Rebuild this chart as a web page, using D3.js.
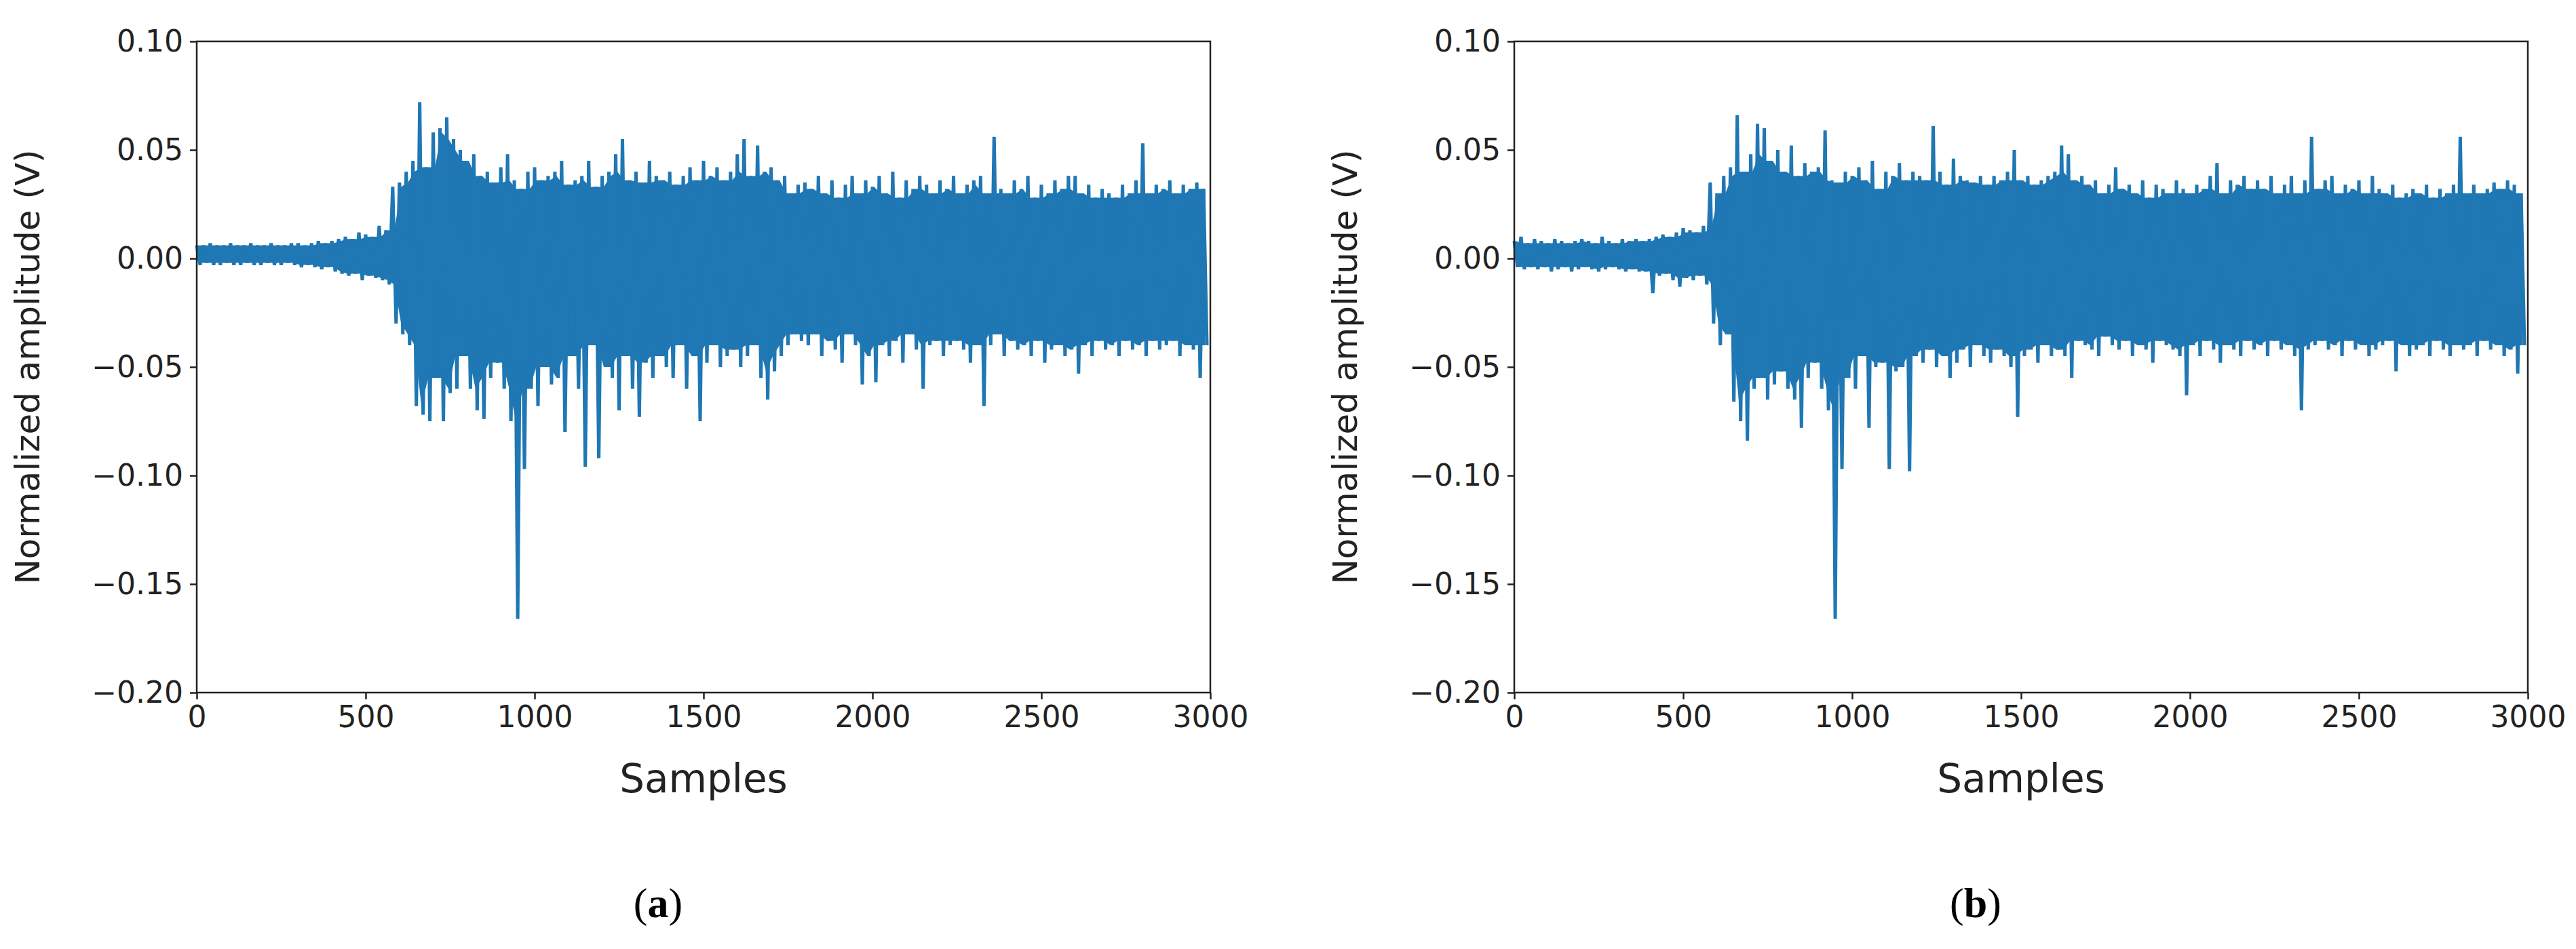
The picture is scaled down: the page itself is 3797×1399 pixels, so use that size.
<!DOCTYPE html>
<meta charset="utf-8">
<style>body{margin:0;background:#fff}</style>
<body>
<script src="https://d3js.org/d3.v7.min.js"></script>
<script>
var width = 3797, height = 1399;

// per 20 samples: upper peak at i*20, lower trough at i*20+10 (units of 0.001 V)
var upperA = [6,6,7,6,6,7,6,6,7,6,6,7,6,6,7,7,6,7,8,7,
  8,9,10,9,12,11,10,15,13,33, 35,40,45,72,42,58,60,65,55,50,
  45,48,38,40,35,42,48,36,32,40, 42,36,38,40,45,34,36,38,45,33,
  38,40,48,55,36,40,35,45,38,36, 40,34,38,42,36,45,38,42,36,40,
  48,55,38,52,40,42,36,38,30,34, 35,32,38,30,36,28,34,38,30,36,
  33,38,30,40,28,36,32,38,34,30, 36,32,38,30,34,36,38,30,56,32,
  30,36,32,38,28,34,30,36,32,38, 38,30,34,28,32,30,28,34,30,36,
  53,30,34,32,36,30,34,32,35,32];
var lowerA = [3,2,3,3,2,3,3,2,3,3,2,3,3,2,3,4,3,4,5,4,
  6,7,8,7,10,8,9,10,12,30, 35,40,68,72,75,55,75,62,60,45,
  60,70,74,55,48,60,75,166,97,60, 68,50,58,55,80,45,60,96,40,92,
  50,55,70,45,60,73,48,55,45,50, 55,40,60,45,75,48,40,50,45,42,
  50,45,40,55,65,52,45,40,35,38, 40,35,45,38,42,48,35,40,58,45,
  57,40,45,38,48,35,42,60,40,38, 45,40,38,42,48,40,68,40,35,45,
  38,42,40,45,38,48,42,40,45,42, 53,40,45,38,42,40,45,38,42,40,
  45,38,42,40,38,45,40,42,55,40];
var upperB = [8,10,7,9,8,7,9,8,7,8,9,8,7,10,8,7,9,8,9,8,
  9,10,11,10,12,14,13,12,15,35, 30,38,42,66,40,48,62,60,45,50,
  40,52,38,44,40,42,59,36,35,40, 38,42,36,45,32,40,38,44,36,40,
  38,36,61,40,34,46,38,36,35,38, 34,38,36,40,50,36,38,34,36,38,
  40,52,48,36,38,34,36,30,34,42, 32,34,30,36,28,34,32,30,36,32,
  30,34,32,38,44,30,36,34,38,32, 36,32,38,30,34,38,30,36,56,32,
  36,38,30,34,32,36,30,38,32,30, 34,28,30,32,30,34,28,32,30,34,
  56,30,34,30,32,35,32,36,34,30];
var lowerB = [4,5,4,5,4,6,5,4,6,5,4,5,6,5,4,5,6,5,6,6,
  16,8,7,10,13,9,10,8,12,30, 40,35,66,75,84,60,55,65,58,52,
  60,65,78,55,48,60,70,166,97,55, 60,45,78,50,48,97,52,50,98,45,
  48,42,50,45,55,48,42,50,40,45, 48,42,45,50,73,45,42,48,40,45,
  42,45,55,38,40,42,45,36,40,42, 38,45,40,42,48,38,40,42,45,63,
  40,45,38,42,48,40,42,45,38,42, 40,45,38,42,40,45,70,42,40,38,
  42,40,45,38,42,40,45,42,40,38, 52,40,45,42,40,45,38,42,45,40,
  42,40,45,38,42,40,45,42,53,40];

var xTicks = [0, 500, 1000, 1500, 2000, 2500, 3000];
var yTicks = [0.10, 0.05, 0.00, -0.05, -0.10, -0.15, -0.20];

var svg = d3.select("body").append("svg")
    .attr("width", width).attr("height", height);

function panel(ox, upper, lower, tag) {
  var x = d3.scaleLinear().domain([0, 3000]).range([ox, ox + 1494]),
      y = d3.scaleLinear().domain([-0.2, 0.1]).range([1021, 61]);

  var pts = [];
  upper.forEach(function(u, i) {
    pts.push([i * 20, u / 1000]);
    pts.push([i * 20 + 10, -lower[i] / 1000]);
  });

  // packed core of the trace: smallest neighbouring peak / trough
  var win = (arr, i) => d3.min(arr.slice(Math.max(i - 1, 0), i + 2));
  var band = upper.map((u, i) => ({s: i * 20 + 5,
      hi: win(upper, i) / 1000, lo: -win(lower, i) / 1000}));

  var g = svg.append("g");
  g.append("path")
      .datum(band)
      .attr("fill", "#1f77b4")
      .attr("d", d3.area().x(d => x(d.s)).y0(d => y(d.lo)).y1(d => y(d.hi)));
  g.append("path")
      .datum(pts)
      .attr("fill", "none")
      .attr("stroke", "#1f77b4")
      .attr("stroke-width", 5)
      .attr("d", d3.line().x(d => x(d[0])).y(d => y(d[1])));

  g.append("rect")
      .attr("x", ox).attr("y", 61).attr("width", 1494).attr("height", 960)
      .attr("fill", "none").attr("stroke", "#222").attr("stroke-width", 2.5);

  var xa = g.append("g").attr("transform", "translate(0,1021)")
      .call(d3.axisBottom(x).tickValues(xTicks).tickSize(10).tickPadding(10).tickFormat(d3.format("d")));
  var ya = g.append("g").attr("transform", "translate(" + ox + ",0)")
      .call(d3.axisLeft(y).tickValues(yTicks).tickSize(10).tickPadding(10)
        .tickFormat(d => d3.format(".2f")(d).replace("-", "\u2212")));
  [xa, ya].forEach(function(a) {
    a.select(".domain").remove();
    a.selectAll("line").attr("stroke", "#222").attr("stroke-width", 2.5);
    a.selectAll("text").attr("font-family", "DejaVu Sans").attr("font-size", 44).attr("fill", "#222");
  });

  g.append("text").attr("x", ox + 747).attr("y", 1168)
      .attr("text-anchor", "middle").attr("font-family", "DejaVu Sans")
      .attr("font-size", 58).attr("fill", "#222").text("Samples");
  g.append("text")
      .attr("transform", "translate(" + (ox - 232) + ",541) rotate(-90)")
      .attr("text-anchor", "middle").attr("font-family", "DejaVu Sans")
      .attr("font-size", 50).attr("fill", "#222").text("Normalized amplitude (V)");

  var t = g.append("text").attr("x", ox + 680).attr("y", 1352)
      .attr("text-anchor", "middle").attr("font-family", "Liberation Serif")
      .attr("font-size", 62).attr("fill", "#000");
  t.append("tspan").text("(");
  t.append("tspan").attr("font-weight", "bold").text(tag);
  t.append("tspan").text(")");
}

panel(290, upperA, lowerA, "a");
panel(2232, upperB, lowerB, "b");
</script>
